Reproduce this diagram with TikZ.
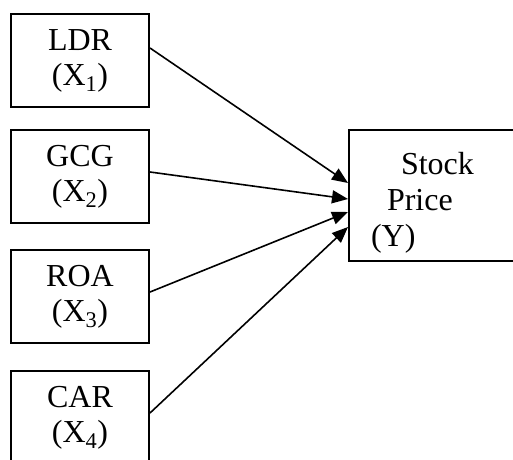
\documentclass[tikz,border=0pt]{standalone}
\usepackage{fontspec}
\setmainfont{Liberation Serif}
\usetikzlibrary{arrows.meta}

\begin{document}
\begin{tikzpicture}[x=1pt,y=-1pt,line width=2pt,
  box/.style={draw,minimum width=138pt,minimum height=93pt,inner sep=0pt,
    align=center,font=\fontsize{32}{35}\selectfont},
  arr/.style={-{Triangle[length=16pt,width=13pt]},line width=1.6pt}]
\useasboundingbox (0,0) rectangle (513,459);
\clip (0,0) rectangle (513,459);
 \node[box] (ldr) at (80,60.5) {LDR\\(X\textsubscript{1})};
 \node[box] (gcg) at (80,176.5) {GCG\\(X\textsubscript{2})};
  \node[box] (roa) at (80,296.5) {ROA\\(X\textsubscript{3})};
   \node[box] (car) at (80,417.5) {CAR\\(X\textsubscript{4})};
 \node[draw,minimum width=180pt,minimum height=131pt,inner sep=0pt] (price) at (439,195.5) {};
 \node[anchor=north west,inner sep=0pt,align=left,font=\fontsize{32}{36}\selectfont] (pricetxt) at (370,151)
   {\hspace*{30pt}Stock\\\hspace*{16pt}Price\\(Y)};
 \draw[arr] ([yshift=12.5pt]ldr.east) -- ([yshift=12.5pt]price.west);
 \draw[arr] ([yshift=4.5pt]gcg.east) -- ([yshift=-3.5pt]price.west);
 \draw[arr] ([yshift=4.5pt]roa.east) -- ([yshift=-16.5pt]price.west);
 \draw[arr] ([yshift=4.5pt]car.east) -- ([yshift=-31.5pt]price.west);
\end{tikzpicture}
\end{document}
